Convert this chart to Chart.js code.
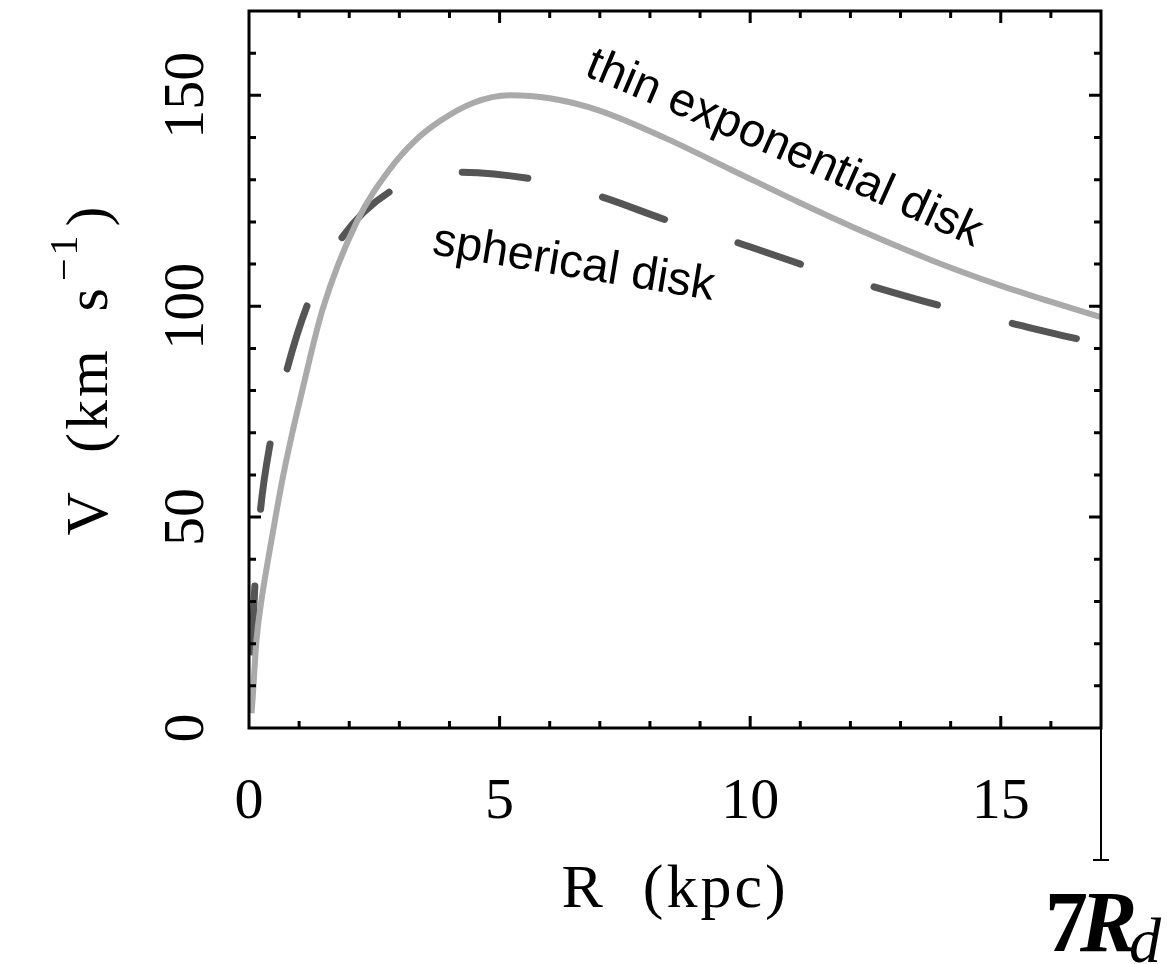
<!DOCTYPE html>
<html>
<head>
<meta charset="utf-8">
<script src="https://cdn.jsdelivr.net/npm/chart.js@4/dist/chart.umd.min.js"></script>
<style>
  html, body { margin: 0; padding: 0; background: #fff; }
  #wrap { width: 1167px; height: 964px; position: relative; }
</style>
</head>
<body>
<div id="wrap"><canvas id="chartCanvas"></canvas></div>
<script>
// radius (kpc) and rotation speed (km/s)
const thinR = [0.05, 0.07, 0.15, 0.25, 0.38, 0.52, 0.68, 0.85, 1.02, 1.47, 2.15, 2.81, 3.3, 3.81, 4.47, 5.2, 6.0, 6.99, 8.32, 9.65, 10.98, 12.31, 13.64, 14.97, 15.96, 17.0];
const thinV = [3.5, 6.6, 20.9, 30.4, 39.9, 49.4, 59.7, 69.2, 77.9, 99.3, 120.0, 132.5, 139.1, 143.9, 148.2, 150.0, 149.3, 146.4, 139.8, 132.2, 124.6, 117.4, 110.8, 105.0, 101.2, 97.4];

const sphR = [0, 0.05, 0.12, 0.22, 0.43, 0.74, 1.18, 1.81, 2.84, 4.17, 5.63, 6.96, 8.36, 9.69, 11.08, 12.41, 13.8, 15.17, 16.56, 17.0];
const sphV = [0, 16.9, 34.4, 50.6, 68.0, 84.2, 100.8, 115.5, 127.4, 131.8, 130.2, 126.2, 120.3, 115.3, 109.7, 104.8, 100.1, 96.1, 92.2, 91.2];

const xTickLabels = [0, 5, 10, 15];
const yTickLabels = [0, 50, 100, 150];
const xMax = 17;
const yMax = 170;

const serif = '"Liberation Serif", "Times New Roman", serif';
const sans = '"Liberation Sans", Arial, sans-serif';

function textOnCurve(ctx, str, p0, p1, p2) {
  // sample the quadratic curve to get arc length
  const pts = [];
  let len = 0;
  for (let i = 0; i <= 400; i++) {
    const t = i / 400;
    const px = (1 - t) * (1 - t) * p0[0] + 2 * t * (1 - t) * p1[0] + t * t * p2[0];
    const py = (1 - t) * (1 - t) * p0[1] + 2 * t * (1 - t) * p1[1] + t * t * p2[1];
    if (i > 0) len += Math.hypot(px - pts[i - 1].x, py - pts[i - 1].y);
    pts.push({ x: px, y: py, s: len });
  }
  let s = 0;
  for (const ch of str) {
    const w = ctx.measureText(ch).width;
    const mid = s + w / 2;
    let k = pts.findIndex(p => p.s >= mid);
    if (k < 1) k = 1;
    const a = pts[k - 1], b = pts[k];
    const ang = Math.atan2(b.y - a.y, b.x - a.x);
    ctx.save();
    ctx.translate(b.x, b.y);
    ctx.rotate(ang);
    ctx.fillText(ch, -w / 2, 0);
    ctx.restore();
    s += w;
  }
}

const frame = {
  id: 'frame',
  afterDraw(chart) {
    const { ctx, chartArea: a, scales: { x, y } } = chart;
    ctx.save();
    ctx.strokeStyle = '#000';
    ctx.fillStyle = '#000';
    ctx.lineCap = 'butt';

    // ticks on all four sides, pointing inward
    ctx.lineWidth = 3;
    ctx.beginPath();
    for (let v = 1; v < xMax; v++) {
      const px = x.getPixelForValue(v);
      const len = v % 5 === 0 ? 12 : 7;
      ctx.moveTo(px, a.bottom); ctx.lineTo(px, a.bottom - len);
      ctx.moveTo(px, a.top); ctx.lineTo(px, a.top + len);
    }
    for (let v = 10; v < yMax; v += 10) {
      const py = y.getPixelForValue(v);
      const len = v % 50 === 0 ? 12 : 7;
      ctx.moveTo(a.left, py); ctx.lineTo(a.left + len, py);
      ctx.moveTo(a.right, py); ctx.lineTo(a.right - len, py);
    }
    ctx.stroke();

    ctx.lineWidth = 3;
    ctx.strokeRect(a.left, a.top, a.right - a.left, a.bottom - a.top);

    // 7 Rd marker below the right end of the axis
    ctx.lineWidth = 2;
    ctx.beginPath();
    const rx = x.getPixelForValue(xMax);
    ctx.moveTo(rx, a.bottom); ctx.lineTo(rx, 860);
    ctx.moveTo(rx - 8, 860); ctx.lineTo(rx + 8, 860);
    ctx.stroke();

    // tick labels
    ctx.font = '58px ' + serif;
    ctx.textAlign = 'center';
    ctx.textBaseline = 'alphabetic';
    xTickLabels.forEach(v => {
      ctx.fillText(String(v), x.getPixelForValue(v), 818);
    });
    yTickLabels.forEach(v => {
      ctx.save();
      ctx.translate(203, y.getPixelForValue(v));
      ctx.rotate(-Math.PI / 2);
      ctx.fillText(String(v), 0, 0);
      ctx.restore();
    });

    // axis titles
    ctx.font = '62px ' + serif;
    ctx.letterSpacing = '3px';
    ctx.fillText('R  (kpc)', (a.left + a.right) / 2, 907);

    ctx.save();
    ctx.translate(107, (a.top + a.bottom) / 2);
    ctx.rotate(-Math.PI / 2);
    ctx.textAlign = 'left';
    ctx.font = '60px ' + serif;
    const main = 'V  (km  s';
    const wMain = ctx.measureText(main).width;
    ctx.font = '40px ' + serif;
    const sup = '\u22121';
    const wSup = ctx.measureText(sup).width;
    ctx.font = '60px ' + serif;
    const wClose = ctx.measureText(')').width;
    const total = wMain + 4 + wSup + 6 + wClose;
    let cx = -total / 2;
    ctx.fillText(main, cx, 0);
    cx += wMain + 4;
    ctx.font = '40px ' + serif;
    ctx.fillText(sup, cx, -30);
    cx += wSup + 6;
    ctx.font = '60px ' + serif;
    ctx.fillText(')', cx, 0);
    ctx.restore();
    ctx.letterSpacing = '0px';

    // 7 R_d label
    ctx.textAlign = 'left';
    ctx.font = 'bold 86px ' + serif;
    ctx.fillText('7', 1045, 951);
    ctx.font = 'bold italic 86px ' + serif;
    ctx.fillText('R', 1080, 951);
    ctx.font = 'italic 64px ' + serif;
    ctx.fillText('d', 1129, 962);

    // curve annotations
    ctx.font = '47px ' + sans;
    textOnCurve(ctx, 'thin exponential disk', [583, 75], [740, 140], [985, 252]);

    ctx.save();
    ctx.translate(431, 254);
    ctx.rotate(9.3 * Math.PI / 180);
    ctx.fillText('spherical disk', 0, 0);
    ctx.restore();

    ctx.restore();
  }
};

const ctx = document.getElementById('chartCanvas').getContext('2d');
const chart = new Chart(ctx, {
  type: 'line',
  data: {
    datasets: [
      {
        label: 'thin exponential disk',
        data: thinR.map((r, i) => ({ x: r, y: thinV[i] })),
        borderColor: '#aaaaaa',
        borderWidth: 6,
        pointRadius: 0,
        cubicInterpolationMode: 'monotone',
        fill: false
      },
      {
        label: 'spherical disk',
        data: sphR.map((r, i) => ({ x: r, y: sphV[i] })),
        borderColor: '#555555',
        borderWidth: 7,
        borderDash: [66, 77],
        borderDashOffset: 67,
        borderCapStyle: 'round',
        pointRadius: 0,
        cubicInterpolationMode: 'monotone',
        fill: false
      }
    ]
  },
  options: {
    responsive: true,
    maintainAspectRatio: false,
    animation: false,
    layout: { padding: { left: 249, top: 11, right: 66, bottom: 236 } },
    scales: {
      x: { type: 'linear', min: 0, max: xMax, display: false },
      y: { type: 'linear', min: 0, max: yMax, display: false }
    },
    plugins: {
      legend: { display: false },
      tooltip: { enabled: false }
    }
  },
  plugins: [frame]
});
</script>
</body>
</html>
